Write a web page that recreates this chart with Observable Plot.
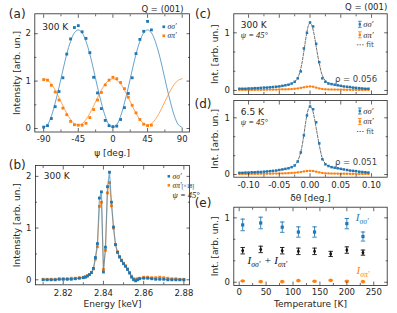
<!DOCTYPE html>
<html><head><meta charset="utf-8">
<script src="https://cdn.jsdelivr.net/npm/d3@7"></script>
<script src="https://cdn.jsdelivr.net/npm/@observablehq/plot@0.6"></script>
<style>
html,body{margin:0;padding:0;background:#fff}
#fig{position:relative;width:397px;height:313px;overflow:hidden;font-family:"DejaVu Sans"}
#fig svg{position:absolute;left:0;top:0}
</style></head><body><div id="fig"></div>
<script>
// ---------- data: panel (a) ----------
const psiA = [-90,-85,-80,-75,-70,-65,-60,-55,-50,-45,-40,-35,-30,-25,-20,-15,-10,-5,0,5,10,15,20,25,30,35,40,45,50];
const ssA  = [0.03,0.06,0.21,0.46,0.78,1.07,1.57,1.89,2.13,2.17,2.04,1.90,1.60,1.08,0.75,0.42,0.17,0.06,0.04,0.05,0.19,0.44,0.74,1.07,1.58,1.88,2.05,2.26,2.08];
const spA  = [1.03,1.02,0.91,0.77,0.60,0.43,0.29,0.15,0.08,0.07,0.07,0.11,0.23,0.40,0.60,0.76,0.92,1.02,1.08,1.05,0.97,0.84,0.66,0.49,0.33,0.19,0.09,0.06,0.07];
const psiFit = [-90,-85,-80,-75,-70,-65,-60,-55,-50,-45,-40,-35,-30,-25,-20,-15,-10,-5,0,5,10,15,20,25,30,35,40,45,50,55,60,65,70,75,80,85,90];
const ssFit  = [0.02,0.08,0.26,0.54,0.87,1.23,1.57,1.84,2.02,2.08,2.02,1.84,1.57,1.23,0.87,0.54,0.26,0.08,0.02,0.08,0.26,0.54,0.87,1.23,1.57,1.84,2.02,2.08,2.02,1.84,1.57,1.23,0.87,0.54,0.26,0.08,0.02];
const spFit  = [1.05,1.02,0.94,0.81,0.65,0.48,0.32,0.19,0.10,0.07,0.10,0.19,0.32,0.48,0.65,0.81,0.94,1.02,1.05,1.02,0.94,0.81,0.65,0.48,0.32,0.19,0.10,0.07,0.10,0.19,0.32,0.48,0.65,0.81,0.94,1.02,1.05];

// ---------- data: panel (b) ----------
const eB  = [2.810,2.812,2.814,2.816,2.818,2.820,2.822,2.824,2.826,2.828,
             2.830,2.831,2.832,2.833,2.834,2.835,2.836,2.837,2.838,2.839,2.840,2.841,2.842,2.843,2.844,2.845,2.846,2.847,2.848,2.849,2.850,2.851,2.852,2.853,2.854,2.855,2.856,2.857,2.858,
             2.860,2.862,2.864,2.866,2.868,2.870,2.872,2.874,2.876,2.878,2.880];
const ssB = [0.00,0.00,0.00,0.00,0.01,0.01,0.01,0.01,0.02,0.03,
             0.04,0.05,0.07,0.10,0.14,0.22,0.43,0.70,1.58,1.70,0.15,0.63,1.80,2.08,1.50,1.02,0.68,0.53,0.44,0.37,0.31,0.26,0.20,0.13,0.05,0.00,-0.02,0.00,0.02,
             0.03,0.03,0.02,0.01,0.01,0.01,0.00,0.00,0.00,0.00,0.00];
const spB = [0.01,0.01,0.01,0.01,0.02,0.02,0.02,0.03,0.03,0.04,
             0.05,0.06,0.08,0.10,0.14,0.21,0.40,0.64,1.42,1.50,0.20,0.57,1.68,1.88,1.43,1.00,0.68,0.54,0.45,0.38,0.32,0.27,0.21,0.14,0.07,0.02,0.01,0.02,0.03,
             0.05,0.05,0.04,0.04,0.05,0.04,0.03,0.02,0.02,0.01,0.01];

// ---------- data: panels (c), (d) ----------
const dth = [-0.115,-0.110,-0.105,-0.100,-0.095,-0.090,-0.085,-0.080,-0.075,-0.070,-0.065,-0.060,-0.055,-0.050,-0.045,-0.040,-0.035,-0.030,-0.025,-0.020,-0.015,-0.010,-0.005,0.000,
             0.005,0.010,0.015,0.020,0.025,0.030,0.035,0.040,0.045,0.050,0.055,0.060,0.065,0.070,0.075,0.080,0.085,0.090,0.095];
const ssC = [0.03,0.03,0.03,0.035,0.035,0.04,0.04,0.045,0.05,0.05,0.055,0.06,0.065,0.07,0.08,0.09,0.10,0.12,0.15,0.21,0.33,0.73,1.00,1.18,
             1.11,0.81,0.49,0.21,0.15,0.12,0.11,0.10,0.09,0.08,0.07,0.065,0.06,0.05,0.045,0.04,0.035,0.03,0.03];
const spC = [0.01,0.01,0.01,0.01,0.01,0.01,0.012,0.012,0.012,0.015,0.015,0.015,0.015,0.018,0.02,0.02,0.022,0.025,0.03,0.035,0.045,0.055,0.065,0.07,
             0.065,0.05,0.035,0.025,0.02,0.018,0.017,0.016,0.015,0.015,0.014,0.013,0.012,0.012,0.011,0.01,0.01,0.01,0.01];
const ssD = [0.03,0.03,0.035,0.035,0.04,0.04,0.045,0.045,0.05,0.055,0.06,0.065,0.07,0.08,0.09,0.10,0.11,0.13,0.16,0.23,0.39,0.69,1.04,1.20,
             1.15,0.92,0.55,0.27,0.18,0.15,0.13,0.12,0.11,0.10,0.09,0.08,0.07,0.065,0.06,0.05,0.045,0.04,0.035];
const spD = [0.01,0.01,0.01,0.01,0.012,0.012,0.012,0.015,0.015,0.015,0.015,0.018,0.018,0.02,0.02,0.022,0.025,0.028,0.032,0.038,0.045,0.055,0.062,0.065,
             0.062,0.05,0.038,0.028,0.022,0.02,0.018,0.017,0.016,0.015,0.015,0.014,0.013,0.012,0.012,0.011,0.01,0.01,0.01];
const fitX = [-0.115,-0.100,-0.080,-0.060,-0.050,-0.040,-0.030,-0.025,-0.020,-0.015,-0.010,-0.0075,-0.005,-0.0025,0,0.0025,0.005,0.0075,0.010,0.015,0.020,0.025,0.030,0.040,0.050,0.060,0.080,0.095];
const fitC = [0.03,0.035,0.045,0.06,0.07,0.09,0.12,0.15,0.22,0.38,0.68,0.86,1.02,1.13,1.17,1.14,1.05,0.92,0.76,0.47,0.26,0.17,0.13,0.10,0.08,0.06,0.04,0.03];
const fitD = [0.03,0.035,0.045,0.065,0.08,0.10,0.13,0.16,0.24,0.40,0.70,0.89,1.05,1.16,1.20,1.18,1.10,0.97,0.82,0.52,0.29,0.19,0.15,0.12,0.10,0.08,0.05,0.035];

// ---------- data: panel (e) ----------
const tSs  = [6.5,40,80,110,140,200,230];
const iSs  = [0.89,0.92,0.855,0.78,0.78,0.91,0.71];
const eSs  = [0.09,0.09,0.08,0.08,0.08,0.08,0.07];
const tAll = [6.5,40,80,110,140,170,200,230];
const iSum = [0.49,0.51,0.49,0.48,0.48,0.44,0.50,0.46];
const eSum = [0.05,0.05,0.05,0.05,0.05,0.04,0.05,0.04];
const iSp  = [0.02,0.01,0.01,0.025,0.015,0.03,0.015,0.01];
const eSp  = [0.008,0.008,0.008,0.008,0.008,0.008,0.008,0.008];

// ---------- ticks ----------
const aXMaj=[-90,-45,0,45,90], aXMin=[-67.5,-22.5,22.5,67.5], aYMaj=[0,1,2], aYMin=[0.5,1.5];
const bXMaj=[2.82,2.84,2.86,2.88], bXMin=[2.81,2.83,2.85,2.87], bYMaj=[0,1,2], bYMin=[0.5,1.5];
const cXMaj=[-0.1,-0.05,0,0.05,0.1], cXMin=[-0.075,-0.025,0.025,0.075], cYMaj=[0,1], cYMin=[0.333,0.667];
const eXMaj=[0,50,100,150,200,250], eXMin=[25,75,125,175,225], eYMaj=[0,1], eYMin=[0.333,0.667];

// ---------- style ----------
const W=397, H=313;
const SANS="DejaVu Sans", SERIF="Liberation Serif", INK="#262626";
const BLUE="#1f77b4", ORANGE="#ff7f0e";
const hline={draw(c,s){const r=Math.sqrt(s/Math.PI);c.moveTo(-r,0);c.lineTo(r,0);}};
const errIcon={draw(c,s){const r=Math.sqrt(s/Math.PI);c.moveTo(0,-r);c.lineTo(0,r);c.moveTo(-r*0.6,-r);c.lineTo(r*0.6,-r);c.moveTo(-r*0.6,r);c.lineTo(r*0.6,r);}};
const dashIcon={draw(c,s){const r=Math.sqrt(s/Math.PI);for(let k=0;k<3;k++){const x0=-r+k*(2*r/3);c.moveTo(x0,0);c.lineTo(x0+r*0.4,0);}}};

const T=(s,anchor,dx,dy,o={})=>Plot.text([s],{text:d=>d,frameAnchor:anchor,dx,dy,textAnchor:o.ta??"start",lineAnchor:"middle",
  fontSize:o.fs??9,fill:o.fill??INK,fontFamily:o.ff??SANS,fontStyle:o.fst??"normal",rotate:o.rot??0});
const Ico=(anchor,dx,dy,o)=>Plot.dot([0],{frameAnchor:anchor,dx,dy,...o});

function panel(o){
  const [l,t,r,b]=o.frame;
  const tk=(a,ticks,size)=>(a==="top"||a==="bottom"?Plot.axisX:Plot.axisY)(ticks,{anchor:a,tickSize:-size,fill:"none",stroke:INK,strokeWidth:0.7,label:null});
  const ax=[];
  for(const a of ["top","bottom"]) ax.push(tk(a,o.xMaj,3.5),tk(a,o.xMin,2));
  for(const a of ["left","right"]) ax.push(tk(a,o.yMaj,3.5),tk(a,o.yMin,2));
  if(o.xLab) ax.push(Plot.axisX(o.xMaj,{anchor:"bottom",tickSize:0,tickPadding:o.xPad??4,tickFormat:o.xFmt,fill:INK,stroke:"none",label:null}));
  ax.push(Plot.axisY(o.yMaj,{anchor:"left",tickSize:0,tickPadding:4,tickFormat:d=>String(d),fill:INK,stroke:"none",label:null}));
  return Plot.plot({width:W,height:H,marginLeft:l,marginTop:t,marginRight:W-r,marginBottom:H-b,
    x:{domain:o.xDom},y:{domain:o.yDom},
    style:{background:"transparent",fontFamily:SANS,fontSize:"8.5px",overflow:"visible"},
    marks:[...o.marks,Plot.frame({stroke:INK,strokeWidth:0.8}),...ax,...o.texts]});
}

// markup: _{..} subscript, #{..} small upright
function markup(svg){
  d3.select(svg).selectAll("text").each(function(){
    const s=this.textContent; if(!/[_#]\{/.test(s)) return;
    const el=d3.select(this); el.text(null);
    const re=/([_#])\{([^}]*)\}/g; let last=0,m;
    while((m=re.exec(s))){
      if(m.index>last) el.append("tspan").text(s.slice(last,m.index));
      if(m[1]==="_"){ el.append("tspan").attr("font-size","70%").attr("dy",2.5).text(m[2]); el.append("tspan").attr("dy",-2.5).text("\u200A"); }
      else el.append("tspan").attr("font-size","75%").attr("font-style","normal").text(m[2]);
      last=re.lastIndex;
    }
    if(last<s.length) el.append("tspan").text(s.slice(last));
  });
  return svg;
}

const fig=document.getElementById("fig");
const add=svg=>fig.appendChild(markup(svg));
const italic={ff:SERIF,fst:"italic"};

// ---------- panel (a) ----------
const dataA=psiA.map((p,i)=>({psi:p,ss:ssA[i],sp:spA[i]}));
const fitAd=psiFit.map((p,i)=>({psi:p,ss:ssFit[i],sp:spFit[i]}));
add(panel({frame:[34.3,13.3,189,131.5],xDom:[-101.5,99.5],yDom:[-0.074,2.42],
  xMaj:aXMaj,xMin:aXMin,yMaj:aYMaj,yMin:aYMin,xLab:true,xFmt:d=>String(d),
  marks:[
    Plot.line(fitAd,{x:"psi",y:"ss",stroke:BLUE,strokeWidth:0.8,strokeOpacity:0.85,curve:"catmull-rom"}),
    Plot.line(fitAd,{x:"psi",y:"sp",stroke:ORANGE,strokeWidth:0.8,strokeOpacity:0.85,curve:"catmull-rom"}),
    Plot.dot(dataA,{x:"psi",y:"sp",symbol:"square",r:1.6,fill:ORANGE}),
    Plot.dot(dataA,{x:"psi",y:"ss",symbol:"square",r:1.6,fill:BLUE})
  ],
  texts:[
    T("(a)","top-left",-17.6,0.7,{ta:"middle",fs:12}),
    T("Q = (001)","top-right",-6,-5,{ta:"end",fs:8.5}),
    T("300 K","top-left",7.4,13.4),
    Ico("top-right",-25.7,13,{symbol:"square",r:1.5,fill:BLUE}),
    Ico("top-right",-25.7,22,{symbol:"square",r:1.5,fill:ORANGE}),
    T("σσ′","top-right",-22,13,{...italic,fs:7.5}),
    T("σπ′","top-right",-22,22,{...italic,fs:7.5}),
    T("Intensity [arb. un.]","left",-17.3,0,{ta:"middle",rot:-90}),
    T("ψ [deg.]","bottom",0,21.5,{ta:"middle"})
  ]}));

// ---------- panel (b) ----------
const dataB=eB.map((e,i)=>({e,ss:ssB[i],sp:spB[i]}));
add(panel({frame:[35,165,189,284.3],xDom:[2.8062,2.8828],yDom:[-0.097,2.21],
  xMaj:bXMaj,xMin:bXMin,yMaj:bYMaj,yMin:bYMin,xLab:true,xFmt:d=>d.toFixed(2),xPad:5,
  marks:[
    Plot.line(dataB,{x:"e",y:"sp",stroke:ORANGE,strokeWidth:1.1,strokeOpacity:0.6}),
    Plot.dot(dataB,{x:"e",y:"sp",symbol:"square",r:1.6,fill:ORANGE}),
    Plot.line(dataB,{x:"e",y:"ss",stroke:BLUE,strokeWidth:1.1,strokeOpacity:0.6}),
    Plot.dot(dataB,{x:"e",y:"ss",symbol:"square",r:1.6,fill:BLUE})
  ],
  texts:[
    T("(b)","top-left",-18.3,0,{ta:"middle",fs:12}),
    T("300 K","top-left",8.3,11),
    Ico("top-right",-20.7,10.8,{symbol:"square",r:1.4,fill:BLUE}),
    Ico("top-right",-20.7,19.8,{symbol:"square",r:1.4,fill:ORANGE}),
    T("σσ′","top-right",-17,10.8,{...italic,fs:7.5}),
    T("σπ′#{[×18]}","top-right",-17,19.8,{...italic,fs:7.5}),
    T("ψ = 45°","top-right",-17,29.5,{...italic,fs:8.5}),
    T("Intensity [arb. un.]","left",-18,0,{ta:"middle",rot:-90}),
    T("Energy [keV]","bottom",0,19,{ta:"middle"})
  ]}));

// ---------- panels (c), (d) ----------
function cd(frame,ss,sp,fit,label,temp,rho,last,pl,pdy){
  const data=dth.map((x,i)=>({x,ss:ss[i],sp:sp[i]}));
  const fd=fitX.map((x,i)=>({x,y:fit[i]}));
  const texts=[
    T(pl,"top-left",-30.8,pdy,{ta:"middle",fs:12}),
    T(temp,"top-left",7,11.5),
    T("ψ = 45°","top-left",7,21.5,{...italic,fs:8.5}),
    Ico("top-right",-27.4,10.5,{symbol:errIcon,r:3,stroke:BLUE,strokeWidth:0.8}),
    Ico("top-right",-27.4,10.5,{symbol:"square",r:1.3,fill:BLUE}),
    Ico("top-right",-27.4,21,{symbol:errIcon,r:3,stroke:ORANGE,strokeWidth:0.8}),
    Ico("top-right",-27.4,21,{symbol:"square",r:1.3,fill:ORANGE}),
    T("σσ′","top-right",-24,10.5,{...italic,fs:8.5}),
    T("σπ′","top-right",-24,21,{...italic,fs:8.5}),
    Ico("top-right",-26.4,31,{symbol:dashIcon,r:4,stroke:"#555",strokeWidth:0.8}),
    T("fit","top-right",-21,31,{fs:7.5,fill:"#555"}),
    T(rho,"bottom-right",-10,-15,{ta:"end",fs:8.5,fill:"#444"}),
    T("Int. [arb. un.]","left",-18.3,0,{ta:"middle",rot:-90})
  ];
  if(label) texts.push(T("Q = (001)","top-right",0,-6.3,{ta:"end",fs:8.5}));
  if(last) texts.push(T("δθ [deg.]","bottom",0,21,{ta:"middle"}));
  return panel({frame,xDom:[-0.124,0.1255],yDom:[frame[1]<50?-0.07:-0.047,frame[1]<50?1.33:1.305],
    xMaj:cXMaj,xMin:cXMin,yMaj:cYMaj,yMin:cYMin,xLab:last,xFmt:d=>d.toFixed(2),xPad:5,
    marks:[
      Plot.line(data,{x:"x",y:"sp",stroke:ORANGE,strokeWidth:0.8}),
      Plot.dot(data,{x:"x",y:"sp",symbol:"square",r:1.2,fill:ORANGE}),
      Plot.line(fd,{x:"x",y:"y",stroke:"#444",strokeWidth:0.8,strokeDasharray:"2.5,1.5",curve:"catmull-rom"}),
      Plot.dot(data,{x:"x",y:"ss",symbol:"square",r:1.4,fill:BLUE})
    ],texts});
}
add(cd([233.3,13.3,386.7,94],ssC,spC,fitC,true,"300 K","ρ = 0.056",false,"(c)",0));
add(cd([233.3,100,386.7,176.7],ssD,spD,fitD,false,"6.5 K","ρ = 0.051",true,"(d)",3.5));

// ---------- panel (e) ----------
const dSs=tSs.map((t,i)=>({t,v:iSs[i],e:eSs[i]}));
const dSum=tAll.map((t,i)=>({t,v:iSum[i],e:eSum[i]}));
const dSp=tAll.map((t,i)=>({t,v:iSp[i],e:eSp[i]}));
const errMarks=(d,color,sym,r)=>[
  Plot.ruleX(d,{x:"t",y1:q=>q.v-q.e,y2:q=>q.v+q.e,stroke:color,strokeWidth:0.9}),
  Plot.dot(d,{x:"t",y:q=>q.v-q.e,symbol:hline,r:2.2,stroke:color,strokeWidth:0.9}),
  Plot.dot(d,{x:"t",y:q=>q.v+q.e,symbol:hline,r:2.2,stroke:color,strokeWidth:0.9}),
  Plot.dot(d,{x:"t",y:"v",symbol:sym,r,fill:color})
];
add(panel({frame:[233.3,206.7,386.7,285],xDom:[-10,275],yDom:[-0.05,1.165],
  xMaj:eXMaj,xMin:eXMin,yMaj:eYMaj,yMin:eYMin,xLab:true,xFmt:d=>String(d),xPad:3,
  marks:[...errMarks(dSp,ORANGE,"circle",1.8),...errMarks(dSum,"#111","diamond",1.6),...errMarks(dSs,BLUE,"square",1.8)],
  texts:[
    T("(e)","top-left",-30.8,-4,{ta:"middle",fs:12}),
    T("I_{σσ′}","top-left",122,10.5,{...italic,fs:11,fill:BLUE}),
    T("I_{σσ′} + I_{σπ′}","top-left",13.7,53.3,{...italic,fs:11,fill:"#111"}),
    T("I_{σπ′}","top-left",122.7,63.3,{...italic,fs:11,fill:ORANGE}),
    T("Int. [arb. un.]","left",-18.3,0,{ta:"middle",rot:-90}),
    T("Temperature [K]","bottom",0,19,{ta:"middle"})
  ]}));
</script></body></html>
